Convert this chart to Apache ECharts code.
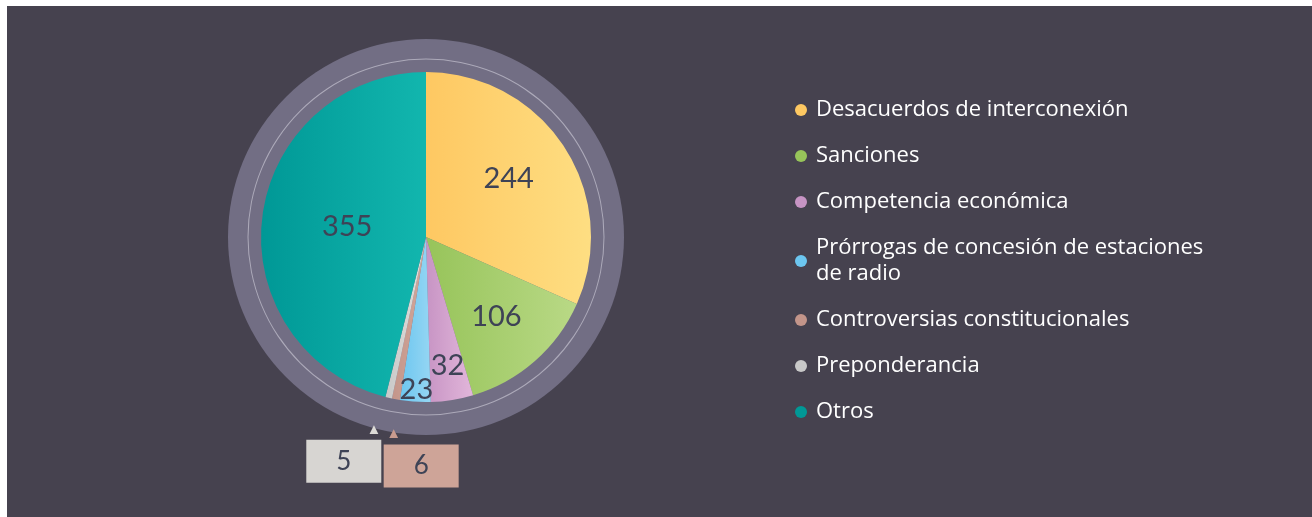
<!DOCTYPE html>
<html>
<head>
<meta charset="utf-8">
<script src="https://cdn.jsdelivr.net/npm/echarts@6/dist/echarts.min.js"></script>
<style>
  html, body { margin: 0; padding: 0; background: #fff; }
  #chart { position: absolute; left: 7px; top: 6px; width: 1305px; height: 511px; background: #46424f; }
</style>
</head>
<body>
<div id="chart"></div>
<script>
// categories and values
const categories = [
    'Desacuerdos de interconexión',
    'Sanciones',
    'Competencia económica',
    'Prórrogas de concesión de estaciones de radio',
    'Controversias constitucionales',
    'Preponderancia',
    'Otros'
]
const values = [244, 106, 32, 23, 6, 5, 355]
// gradient start / end per slice
const colorsFrom = ['#fec862', '#97c45a', '#c794c4', '#6cc6f0', '#c3958a', '#c8c8c8', '#009896']
const colorsTo = ['#fede82', '#b9d986', '#e2b6da', '#95d6f3', '#d2a89b', '#e2e0dc', '#12b6ae']
// where the labels sit relative to their default spot
const labelShift = [[11, -12], [14, 15], [8, 44], [-4, 67], [103, 44], [31, 41], [6, 0]]

const chart = echarts.init(document.getElementById('chart'))
const center = [419, 231]
const labelColor = '#3e4356'

const pieData = categories.map((name, i) => {
    const item = {
        name: name,
        value: values[i],
        itemStyle: {
            color: new echarts.graphic.LinearGradient(0, 0, 1, 0, [
                { offset: 0, color: colorsFrom[i] },
                { offset: 1, color: colorsTo[i] }
            ])
        }
    }
    // the two tiny slices get boxed callouts under the pie
    if (values[i] < 10) {
        const isSix = values[i] === 6
        item.label = {
            position: 'outside',
            formatter: '{tri|▲}\n{box|{c}}',
            rich: {
                tri: {
                    color: isSix ? '#c99b8e' : '#dcdad6',
                    fontSize: 15,
                    lineHeight: 16,
                    align: isSix ? 'left' : 'right',
                    padding: isSix ? [0, 0, 6, 5] : [0, 0, 6, 0],
                    width: 75
                },
                box: {
                    backgroundColor: isSix ? '#cea498' : '#d7d5d2',
                    color: labelColor,
                    fontSize: 26,
                    fontFamily: 'Lato',
                    width: 75,
                    height: 43,
                    align: 'center',
                    lineHeight: 43
                }
            }
        }
        item.labelLine = { show: false }
    }
    return item
})

chart.setOption({
    backgroundColor: '#46424f',
    legend: {
        orient: 'vertical',
        left: 783,
        top: 86,
        itemWidth: 12,
        itemHeight: 12,
        itemGap: 20,
        icon: 'circle',
        selectedMode: false,
        data: categories.map((name, i) => ({ name: name, itemStyle: { color: colorsFrom[i] } })),
        formatter: function (name) {
            return name.replace(' de radio', '\nde radio')
        },
        textStyle: {
            color: '#ffffff',
            fontFamily: 'Open Sans',
            fontSize: 22,
            lineHeight: 26,
            padding: [0, 0, 0, 4]
        }
    },
    series: [
        {
            // grey disc behind the pie
            type: 'pie',
            silent: true,
            center: center,
            radius: [0, 198],
            label: { show: false },
            itemStyle: { color: '#726e84' },
            data: [{ value: 1, name: 'ring' }]
        },
        {
            // thin light circle
            type: 'pie',
            silent: true,
            center: center,
            radius: [177.5, 178.5],
            label: { show: false },
            itemStyle: { color: 'rgba(220,218,230,0.55)' },
            data: [{ value: 1, name: 'line' }]
        },
        {
            type: 'pie',
            center: center,
            radius: [0, 165],
            startAngle: 90,
            clockwise: true,
            avoidLabelOverlap: false,
            label: {
                show: true,
                position: 'inner',
                color: labelColor,
                fontFamily: 'Lato',
                fontSize: 29,
                formatter: '{c}'
            },
            labelLayout: function (params) {
                const s = labelShift[params.dataIndex]
                return { dx: s[0], dy: s[1] }
            },
            itemStyle: { borderWidth: 0 },
            emphasis: { disabled: true },
            data: pieData
        }
    ]
})
</script>
</body>
</html>
